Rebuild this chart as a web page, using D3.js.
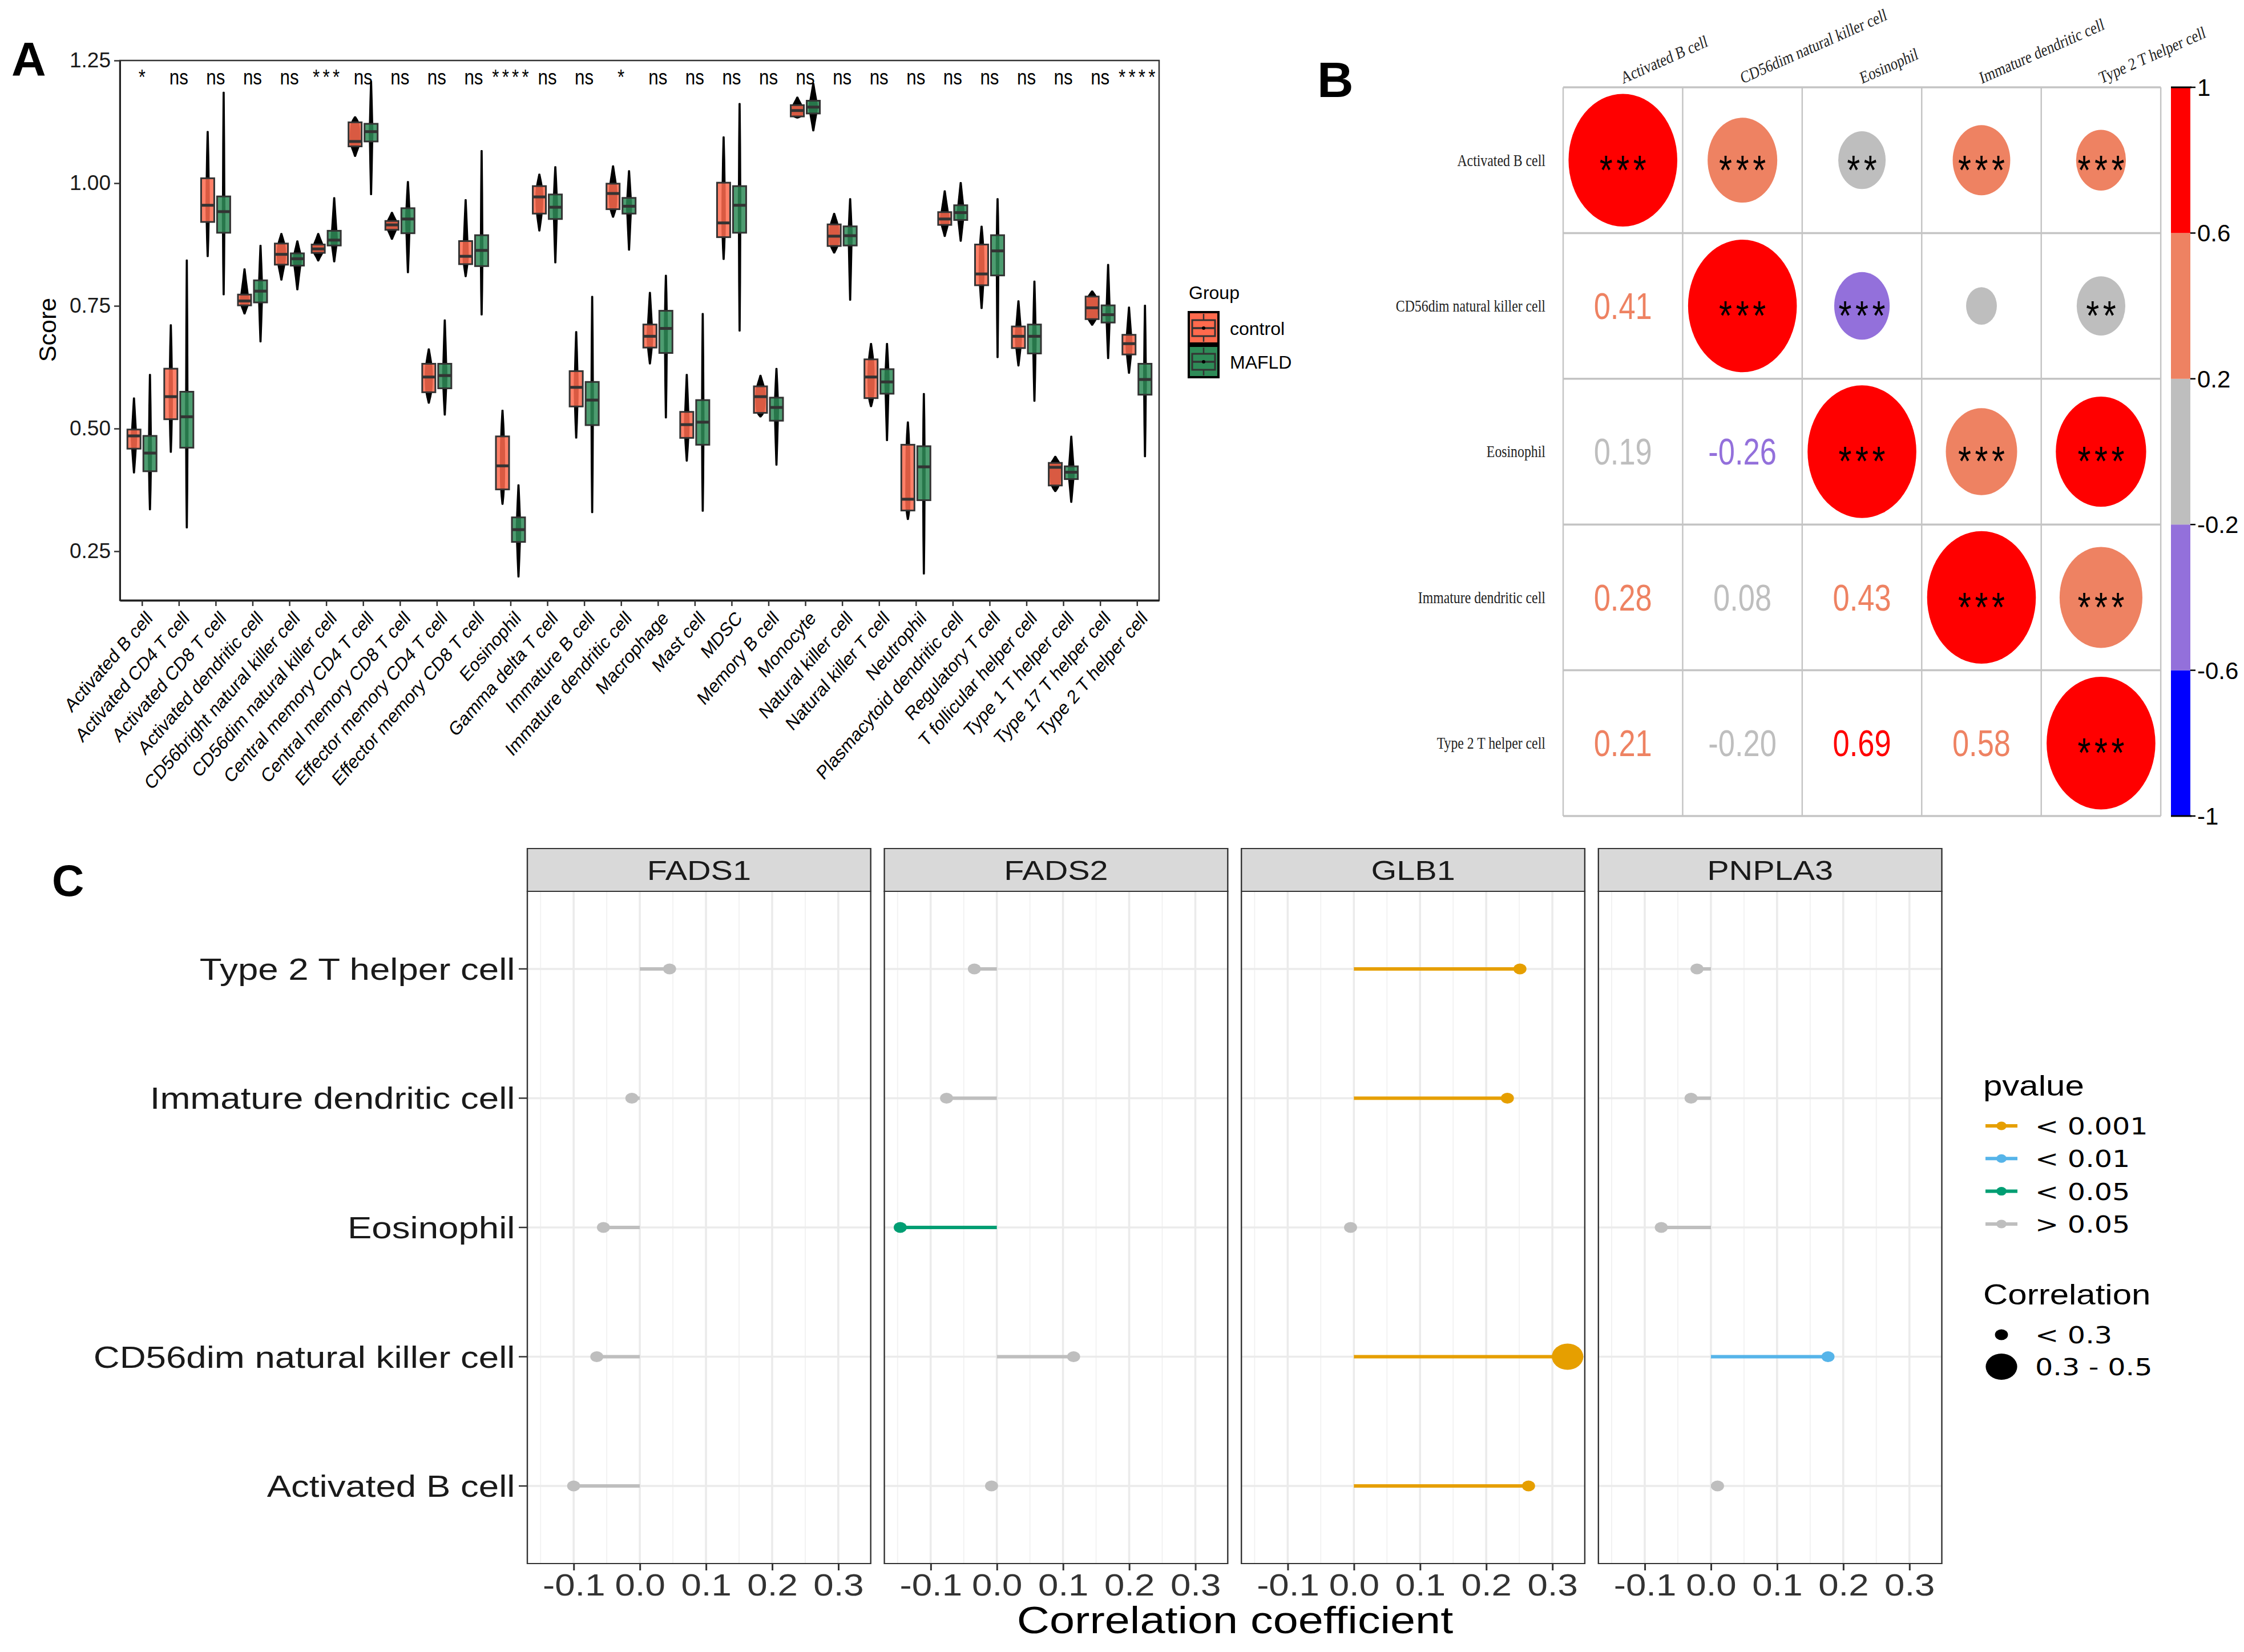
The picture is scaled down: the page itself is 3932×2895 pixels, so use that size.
<!DOCTYPE html>
<html>
<head>
<meta charset="utf-8">
<script src="https://cdn.jsdelivr.net/npm/d3@7"></script>
<style>body{margin:0;background:#fff}</style>
</head>
<body>
<script>
'use strict';

// ---- panel A data: [min, q1, median, q3, max] per cell type ----
const cellTypes = ["Activated B cell", "Activated CD4 T cell", "Activated CD8 T cell", "Activated dendritic cell",
    "CD56bright natural killer cell", "CD56dim natural killer cell", "Central memory CD4 T cell", "Central memory CD8 T cell",
    "Effector memory CD4 T cell", "Effector memory CD8 T cell", "Eosinophil", "Gamma delta T cell", "Immature  B cell",
    "Immature dendritic cell", "Macrophage", "Mast cell", "MDSC", "Memory B cell", "Monocyte", "Natural killer cell",
    "Natural killer T cell", "Neutrophil", "Plasmacytoid dendritic cell", "Regulatory T cell", "T follicular helper cell",
    "Type 1 T helper cell", "Type 17 T helper cell", "Type 2 T helper cell"];
const sigLabels = ["*", "ns", "ns", "ns", "ns", "***", "ns", "ns", "ns", "ns", "****", "ns", "ns", "*",
    "ns", "ns", "ns", "ns", "ns", "ns", "ns", "ns", "ns", "ns", "ns", "ns", "ns", "****"];
const controlStats = [
    [0.410, 0.459, 0.485, 0.498, 0.562], [0.452, 0.519, 0.565, 0.622, 0.711], [0.851, 0.921, 0.955, 1.010, 1.105],
    [0.734, 0.751, 0.760, 0.773, 0.825], [0.803, 0.834, 0.855, 0.877, 0.897], [0.842, 0.858, 0.866, 0.875, 0.897],
    [1.055, 1.075, 1.085, 1.124, 1.135], [0.886, 0.905, 0.915, 0.923, 0.940], [0.552, 0.574, 0.605, 0.632, 0.662],
    [0.810, 0.835, 0.851, 0.882, 0.966], [0.346, 0.376, 0.424, 0.484, 0.537], [0.903, 0.938, 0.972, 0.994, 1.018],
    [0.481, 0.545, 0.584, 0.617, 0.697], [0.931, 0.947, 0.979, 0.999, 1.035], [0.632, 0.665, 0.688, 0.712, 0.777],
    [0.434, 0.481, 0.508, 0.534, 0.610], [0.845, 0.890, 0.919, 1.001, 1.094], [0.524, 0.532, 0.565, 0.586, 0.608],
    [1.133, 1.136, 1.148, 1.159, 1.175], [0.858, 0.872, 0.892, 0.916, 0.938], [0.545, 0.562, 0.605, 0.641, 0.673],
    [0.315, 0.333, 0.356, 0.467, 0.513], [0.892, 0.915, 0.927, 0.941, 0.984], [0.745, 0.792, 0.815, 0.875, 0.912],
    [0.628, 0.664, 0.688, 0.708, 0.760], [0.372, 0.384, 0.421, 0.430, 0.443], [0.711, 0.723, 0.746, 0.769, 0.780],
    [0.613, 0.651, 0.673, 0.691, 0.747]];
const mafldStats = [
    [0.335, 0.413, 0.450, 0.485, 0.610], [0.298, 0.461, 0.524, 0.575, 0.843], [0.773, 0.899, 0.942, 0.973, 1.185],
    [0.677, 0.757, 0.780, 0.802, 0.873], [0.783, 0.832, 0.846, 0.857, 0.882], [0.840, 0.873, 0.884, 0.903, 0.970],
    [0.977, 1.085, 1.105, 1.121, 1.207], [0.818, 0.898, 0.927, 0.949, 1.003], [0.528, 0.582, 0.608, 0.632, 0.721],
    [0.732, 0.831, 0.863, 0.894, 1.066], [0.198, 0.269, 0.294, 0.319, 0.385], [0.838, 0.927, 0.951, 0.977, 1.033],
    [0.329, 0.507, 0.558, 0.595, 0.769], [0.864, 0.938, 0.953, 0.970, 1.025], [0.522, 0.654, 0.704, 0.740, 0.812],
    [0.332, 0.467, 0.513, 0.558, 0.734], [0.699, 0.899, 0.955, 0.994, 1.162], [0.426, 0.516, 0.543, 0.563, 0.622],
    [1.107, 1.142, 1.155, 1.168, 1.203], [0.762, 0.873, 0.893, 0.912, 0.968], [0.476, 0.571, 0.595, 0.621, 0.673],
    [0.204, 0.354, 0.422, 0.464, 0.571], [0.882, 0.925, 0.940, 0.955, 1.001], [0.645, 0.812, 0.862, 0.894, 0.968],
    [0.556, 0.653, 0.688, 0.712, 0.800], [0.350, 0.397, 0.411, 0.423, 0.484], [0.643, 0.716, 0.732, 0.751, 0.834],
    [0.443, 0.569, 0.600, 0.632, 0.751]];
const scoreTicks = [0.25, 0.50, 0.75, 1.00, 1.25];

// ---- panel B data ----
const corrCells = ["Activated B cell", "CD56dim natural killer cell", "Eosinophil", "Immature dendritic cell", "Type 2 T helper cell"];
const corrMatrix = [
    [1.00, 0.41, 0.19, 0.28, 0.21],
    [0.41, 1.00, -0.26, 0.08, -0.20],
    [0.19, -0.26, 1.00, 0.43, 0.69],
    [0.28, 0.08, 0.43, 1.00, 0.58],
    [0.21, -0.20, 0.69, 0.58, 1.00]];
const corrStars = [
    ["***", "***", "**", "***", "***"],
    ["", "***", "***", "", "**"],
    ["", "", "***", "***", "***"],
    ["", "", "", "***", "***"],
    ["", "", "", "", "***"]];
const colorBreaks = [-1, -0.6, -0.2, 0.2, 0.6, 1];
const colorBins = ["#0000FF", "#9370DB", "#BEBEBE", "#EE8262", "#FF0000"];
const colorBarLabels = ["-1", "-0.6", "-0.2", "0.2", "0.6", "1"];

// ---- panel C data ----
const genes = ["FADS1", "FADS2", "GLB1", "PNPLA3"];
const lollipopCells = ["Type 2 T helper cell", "Immature dendritic cell", "Eosinophil", "CD56dim natural killer cell", "Activated B cell"];
const fads1Coef = [0.045, -0.012, -0.055, -0.065, -0.100];
const fads2Coef = [-0.034, -0.076, -0.146, 0.116, -0.008];
const glb1Coef = [0.251, 0.232, -0.005, 0.323, 0.264];
const pnpla3Coef = [-0.021, -0.030, -0.075, 0.177, 0.010];
const fads1P = ["> 0.05", "> 0.05", "> 0.05", "> 0.05", "> 0.05"];
const fads2P = ["> 0.05", "> 0.05", "< 0.05", "> 0.05", "> 0.05"];
const glb1P = ["< 0.001", "< 0.001", "> 0.05", "< 0.001", "< 0.001"];
const pnpla3P = ["> 0.05", "> 0.05", "> 0.05", "< 0.01", "> 0.05"];
const pLevels = ["< 0.001", "< 0.01", "< 0.05", "> 0.05"];
const pColors = ["#E69F00", "#56B4E9", "#009E73", "#BEBEBE"];
const sizeLevels = ["< 0.3", "0.3 - 0.5"];
const coefTicks = [-0.1, 0.0, 0.1, 0.2, 0.3];
const coefMinor = [-0.15, -0.05, 0.05, 0.15, 0.25];

const SANS = '"Liberation Sans", Arial, Helvetica, sans-serif';
const SERIF = '"Liberation Serif", "Times New Roman", serif';
const WIDE = '"DejaVu Sans", Verdana, sans-serif';

const svg = d3.select('body').append('svg')
    .attr('width', 3932).attr('height', 2895)
    .attr('font-family', SANS);
svg.append('rect').attr('width', 3932).attr('height', 2895).attr('fill', '#fff');

function panelLabel(txt, x, y, size) {
    svg.append('text').attr('x', x).attr('y', y).attr('font-size', size)
        .attr('font-weight', 'bold').text(txt);
}

// ================= A: violin + box =================
function drawPanelA() {
    const left = 210, right = 2031, top = 106, bottom = 1052;
    const x = d3.scalePoint().domain(cellTypes).range([left, right]).padding(0.6);
    const y = d3.scaleLinear().domain([0.15, 1.25]).range([bottom, top]);
    const g = svg.append('g');

    g.append('rect').attr('x', left).attr('y', top).attr('width', right - left).attr('height', bottom - top)
        .attr('fill', 'none').attr('stroke', '#333').attr('stroke-width', 2.5);

    const groups = [
        {stats: controlStats, color: '#FF6A4D', dx: -14},
        {stats: mafldStats, color: '#2E8B57', dx: 14}];
    const area = d3.area().y(d => y(d.v)).x0(d => d.cx - d.w).x1(d => d.cx + d.w).curve(d3.curveBasis);

    groups.forEach(grp => {
        grp.stats.forEach((s, i) => {
            const cx = x(cellTypes[i]) + grp.dx;
            const [mn, q1, md, q3, mx] = s;
            const hw = Math.max(2, Math.min(10, 0.7 / (mx - mn)));
            const prof = [
                {v: mn, w: 0.6}, {v: (mn + q1) / 2, w: hw * 0.3 + 0.8}, {v: q1, w: hw * 0.8},
                {v: md, w: hw}, {v: q3, w: hw * 0.8}, {v: (q3 + mx) / 2, w: hw * 0.3 + 0.8}, {v: mx, w: 0.6}
            ].map(p => Object.assign(p, {cx}));
            g.append('path').attr('d', area(prof)).attr('fill', '#000')
                .attr('stroke', '#000').attr('stroke-width', 2.5).attr('stroke-linejoin', 'round');
            g.append('rect').attr('x', cx - 11.5).attr('y', y(q3)).attr('width', 23).attr('height', y(q1) - y(q3))
                .attr('fill', grp.color).attr('fill-opacity', 0.85).attr('stroke', '#333').attr('stroke-width', 3);
            g.append('line').attr('x1', cx - 11.5).attr('x2', cx + 11.5).attr('y1', y(md)).attr('y2', y(md))
                .attr('stroke', '#333').attr('stroke-width', 5);
        });
    });

    // significance labels
    g.selectAll('text.sig').data(sigLabels).enter().append('text')
        .attr('class', 'sig')
        .attr('transform', (d, i) => `translate(${x(cellTypes[i])},148) scale(0.87,1)`)
        .attr('text-anchor', 'middle').attr('font-size', 36)
        .attr('letter-spacing', d => d === 'ns' ? 0 : 6)
        .attr('dx', d => d === 'ns' ? 0 : 3)
        .text(d => d);

    const yAxis = g.append('g').attr('transform', `translate(${left},0)`)
        .call(d3.axisLeft(y).tickValues(scoreTicks).tickSize(10).tickSizeOuter(0).tickPadding(6)
            .tickFormat(d => d.toFixed(2)));
    yAxis.selectAll('text').attr('font-size', 37).attr('font-family', SANS).attr('fill', '#1a1a1a');
    yAxis.selectAll('line').attr('stroke', '#333').attr('stroke-width', 2.5);
    yAxis.select('.domain').attr('stroke', '#222').attr('stroke-width', 3);

    const xAxis = g.append('g').attr('transform', `translate(0,${bottom})`)
        .call(d3.axisBottom(x).tickSize(10).tickSizeOuter(0).tickFormat(''));
    xAxis.selectAll('line').attr('stroke', '#333').attr('stroke-width', 2.5);
    xAxis.select('.domain').attr('stroke', '#222').attr('stroke-width', 3.5);

    g.selectAll('text.xlab').data(cellTypes).enter().append('text')
        .attr('class', 'xlab')
        .attr('transform', d => `translate(${x(d) + 5},1068) scale(0.87,1) rotate(-45)`)
        .attr('text-anchor', 'end').attr('dy', '0.72em').attr('font-size', 34)
        .text(d => d);

    g.append('text').attr('transform', 'translate(98,578) rotate(-90)')
        .attr('text-anchor', 'middle').attr('font-size', 43).text('Score');

    // legend
    g.append('text').attr('x', 2083).attr('y', 524).attr('font-size', 32).text('Group');
    ['control', 'MAFLD'].forEach((name, i) => {
        const y0 = 547 + i * 59;
        const col = groups[i].color;
        g.append('rect').attr('x', 2083).attr('y', y0).attr('width', 52).attr('height', 55)
            .attr('fill', col).attr('stroke', '#000').attr('stroke-width', 4);
        g.append('line').attr('x1', 2109).attr('x2', 2109).attr('y1', y0 + 3).attr('y2', y0 + 52)
            .attr('stroke', '#333').attr('stroke-width', 2.5);
        g.append('rect').attr('x', 2089).attr('y', y0 + 14).attr('width', 40).attr('height', 28)
            .attr('fill', col).attr('stroke', '#333').attr('stroke-width', 3);
        g.append('line').attr('x1', 2089).attr('x2', 2129).attr('y1', y0 + 28).attr('y2', y0 + 28)
            .attr('stroke', '#333').attr('stroke-width', 3.5);
        g.append('circle').attr('cx', 2109).attr('cy', y0 + 28).attr('r', 3).attr('fill', '#000');
        g.append('text').attr('x', 2155).attr('y', y0 + 40).attr('font-size', 32).text(name);
    });
}

// ================= B: correlation matrix =================
function binColor(r) {
    const idx = Math.min(colorBins.length - 1, Math.max(0, d3.bisectRight(colorBreaks, r) - 1));
    return colorBins[idx];
}

function drawPanelB() {
    const cell = 255.4, n = corrCells.length;
    const g = svg.append('g').attr('transform', 'translate(2739,153) scale(0.82,1)');
    const pos = d3.scaleBand().domain(d3.range(n)).range([0, n * cell]);

    // grid
    d3.range(n + 1).forEach(k => {
        g.append('line').attr('x1', k * cell).attr('x2', k * cell).attr('y1', 0).attr('y2', n * cell)
            .attr('stroke', '#C4C4C4').attr('stroke-width', 3);
        g.append('line').attr('x1', 0).attr('x2', n * cell).attr('y1', k * cell).attr('y2', k * cell)
            .attr('stroke', '#C4C4C4').attr('stroke-width', 3.5);
    });

    corrMatrix.forEach((row, i) => {
        row.forEach((r, j) => {
            const cx = pos(j) + cell / 2, cy = pos(i) + cell / 2;
            if (j >= i) {
                g.append('circle').attr('cx', cx).attr('cy', cy)
                    .attr('r', 0.455 * cell * Math.sqrt(Math.abs(r))).attr('fill', binColor(r));
                if (corrStars[i][j]) {
                    g.append('text').attr('x', cx).attr('y', cy + 42).attr('dx', 4)
                        .attr('text-anchor', 'middle').attr('font-size', 72).attr('letter-spacing', 8)
                        .text(corrStars[i][j]);
                }
            } else {
                g.append('text').attr('x', cx).attr('y', cy + 23)
                    .attr('text-anchor', 'middle').attr('font-size', 64).attr('fill', binColor(r))
                    .text(r.toFixed(2));
            }
        });
    });

    g.selectAll('text.rowlab').data(corrCells).enter().append('text')
        .attr('x', -38).attr('y', (d, i) => pos(i) + cell / 2 + 10)
        .attr('text-anchor', 'end').attr('font-family', SERIF).attr('font-size', 29).attr('fill', '#222')
        .text(d => d);
    g.selectAll('text.collab').data(corrCells).enter().append('text')
        .attr('transform', (d, i) => `translate(${pos(i) + cell / 2},-6) rotate(-20)`)
        .attr('font-family', SERIF).attr('font-size', 30).attr('fill', '#222')
        .text(d => d);

    // colour bar
    const cb = d3.scaleLinear().domain([-1, 1]).range([1430, 153]);
    const bar = svg.append('g');
    colorBins.forEach((c, k) => {
        bar.append('rect').attr('x', 3804).attr('width', 34)
            .attr('y', cb(colorBreaks[k + 1])).attr('height', cb(colorBreaks[k]) - cb(colorBreaks[k + 1]))
            .attr('fill', c);
    });
    [1, -1].forEach(v => bar.append('line').attr('x1', 3804).attr('x2', 3840).attr('y1', cb(v)).attr('y2', cb(v))
        .attr('stroke', '#000').attr('stroke-width', 3));
    colorBreaks.forEach((v, k) => {
        bar.append('line').attr('x1', 3838).attr('x2', 3847).attr('y1', cb(v)).attr('y2', cb(v))
            .attr('stroke', '#000').attr('stroke-width', 2.5);
        bar.append('text').attr('x', 3850).attr('y', cb(v) + 15).attr('font-size', 42).text(colorBarLabels[k]);
    });
}

// ================= C: lollipop facets =================
function drawPanelC() {
    const sx = 1.2;
    const top = 1562, bottom = 2740, stripTop = 1487;
    const firstLeft = 924 / sx, step = 625.6 / sx, pw = 601.7 / sx;
    const g = svg.append('g').attr('transform', `scale(${sx},1)`);
    const y = d3.scalePoint().domain(lollipopCells).range([top, bottom]).padding(0.6);
    const coefs = [fads1Coef, fads2Coef, glb1Coef, pnpla3Coef];
    const pvals = [fads1P, fads2P, glb1P, pnpla3P];
    const pColor = d3.scaleOrdinal().domain(pLevels).range(pColors);

    genes.forEach((gene, k) => {
        const left = firstLeft + k * step;
        const x = d3.scaleLinear().domain([-0.17, 0.349]).range([left, left + pw]);
        const p = g.append('g');

        coefMinor.forEach(v => p.append('line').attr('x1', x(v)).attr('x2', x(v)).attr('y1', top).attr('y2', bottom)
            .attr('stroke', '#F2F2F2').attr('stroke-width', 1.6));
        coefTicks.forEach(v => p.append('line').attr('x1', x(v)).attr('x2', x(v)).attr('y1', top).attr('y2', bottom)
            .attr('stroke', '#EBEBEB').attr('stroke-width', 3));
        lollipopCells.forEach(c => p.append('line').attr('x1', left).attr('x2', left + pw).attr('y1', y(c)).attr('y2', y(c))
            .attr('stroke', '#EBEBEB').attr('stroke-width', 3.5));

        const rows = lollipopCells.map((c, i) => ({cell: c, v: coefs[k][i], p: pvals[k][i]}));
        p.selectAll('line.seg').data(rows).enter().append('line')
            .attr('x1', x(0)).attr('x2', d => x(d.v)).attr('y1', d => y(d.cell)).attr('y2', d => y(d.cell))
            .attr('stroke', d => pColor(d.p)).attr('stroke-width', 6);
        p.selectAll('circle.dot').data(rows).enter().append('circle')
            .attr('cx', d => x(d.v)).attr('cy', d => y(d.cell))
            .attr('r', d => Math.abs(d.v) >= 0.3 ? 23 : 9.5)
            .attr('fill', d => pColor(d.p));

        p.append('rect').attr('x', left).attr('y', top).attr('width', pw).attr('height', bottom - top)
            .attr('fill', 'none').attr('stroke', '#333').attr('stroke-width', 2);
        p.append('rect').attr('x', left).attr('y', stripTop).attr('width', pw).attr('height', top - stripTop)
            .attr('fill', '#D9D9D9').attr('stroke', '#333').attr('stroke-width', 2);
        p.append('text').attr('x', left + pw / 2).attr('y', stripTop + 55).attr('text-anchor', 'middle')
            .attr('font-size', 48).attr('fill', '#1a1a1a').text(gene);

        const ax = p.append('g').attr('transform', `translate(0,${bottom})`)
            .call(d3.axisBottom(x).tickValues(coefTicks).tickSize(12).tickPadding(6).tickFormat(d => d.toFixed(1)));
        ax.select('.domain').remove();
        ax.selectAll('line').attr('stroke', '#333').attr('stroke-width', 2.5);
        ax.selectAll('text').attr('font-size', 53).attr('font-family', SANS).attr('fill', '#333');

        if (k === 0) {
            lollipopCells.forEach(c => {
                p.append('line').attr('x1', left - 12.5).attr('x2', left).attr('y1', y(c)).attr('y2', y(c))
                    .attr('stroke', '#333').attr('stroke-width', 2.5);
                p.append('text').attr('x', left - 18).attr('y', y(c) + 19).attr('text-anchor', 'end')
                    .attr('font-size', 53).attr('fill', '#1a1a1a').text(c);
            });
        }
    });

    g.append('text').attr('x', 2164 / sx).attr('y', 2862).attr('text-anchor', 'middle')
        .attr('font-size', 66).text('Correlation coefficient');

    // legends
    const lx = 3475 / sx;
    g.append('text').attr('x', lx).attr('y', 1920).attr('font-size', 50).text('pvalue');
    pLevels.forEach((lv, i) => {
        const yy = 1973 + i * 57.3;
        g.append('line').attr('x1', 3479 / sx).attr('x2', 3535 / sx).attr('y1', yy).attr('y2', yy)
            .attr('stroke', pColors[i]).attr('stroke-width', 6);
        g.append('circle').attr('cx', 3507 / sx).attr('cy', yy).attr('r', 7.5).attr('fill', pColors[i]);
        g.append('text').attr('x', 3566 / sx).attr('y', yy + 15).attr('font-family', WIDE)
            .attr('font-size', 41).text(lv);
    });
    g.append('text').attr('x', lx).attr('y', 2286).attr('font-size', 50).text('Correlation');
    sizeLevels.forEach((lv, i) => {
        const yy = 2339 + i * 56;
        g.append('circle').attr('cx', 3507 / sx).attr('cy', yy).attr('r', i === 0 ? 9.5 : 23).attr('fill', '#000');
        g.append('text').attr('x', 3566 / sx).attr('y', yy + 15).attr('font-family', WIDE)
            .attr('font-size', 41).text(lv);
    });
}

drawPanelA();
drawPanelB();
drawPanelC();
panelLabel('A', 20, 133, 84);
panelLabel('B', 2308, 170, 88);
panelLabel('C', 91, 1570, 78);
</script>
</body>
</html>
